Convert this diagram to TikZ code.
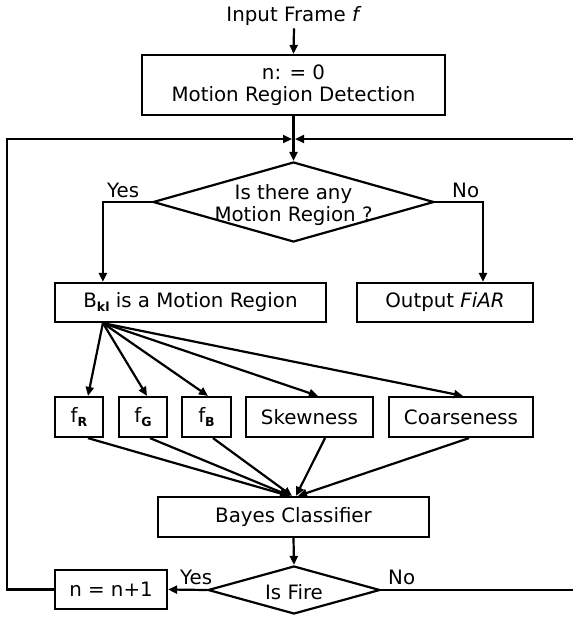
\documentclass[tikz,border=0pt]{standalone}
\usepackage{fontspec}
\setmainfont{DejaVu Sans}
\usetikzlibrary{arrows.meta,shapes.geometric,calc}
% small bold lowered index, as in B_kl and f_R
\newcommand\sbx[1]{\raisebox{-0.35ex}{\fontsize{12.5}{12.5}\selectfont\bfseries #1}}
\begin{document}
\begin{tikzpicture}[x=1pt,y=-1pt,
  font=\fontsize{19.8}{22}\selectfont,
  box/.style={draw,line width=2.2pt,rectangle,inner sep=0pt,align=center},
  dia/.style={draw,line width=2.2pt,diamond,inner sep=0pt},
  arr/.style={line width=2.2pt,-{Triangle[length=9pt,width=8pt]}},
  lbl/.style={inner sep=0pt,anchor=base west}]
\useasboundingbox (0,0) rectangle (573,619);

% input and initialisation
\node[inner sep=3pt,anchor=base] (in) at (294,21) {Input Frame \textit{f}};
\node[box,minimum width=303pt,minimum height=60pt] (init) at (293.5,85)
  {n: = 0\\Motion Region Detection};

% first decision
\node[dia,minimum width=281pt,minimum height=80pt] (q1) at (293.5,202) {};
\node[align=center,inner sep=0pt] (q1t) at (293.5,205) {Is there any\\Motion Region ?};

\node[box,minimum width=271pt,minimum height=39pt] (bkl) at (190.5,302.5)
  {B\sbx{kl} is a Motion Region};
\node[box,minimum width=176pt,minimum height=39pt] (out) at (445,302.5)
  {Output \textit{FiAR}};

% features
\node[box,minimum width=48pt,minimum height=40pt] (fR) at (79,417) {f\sbx{R}};
\node[box,minimum width=48pt,minimum height=40pt] (fG) at (143,417) {f\sbx{G}};
\node[box,minimum width=49pt,minimum height=40pt] (fB) at (206.5,417) {f\sbx{B}};
\node[box,minimum width=127pt,minimum height=40pt] (skew) at (309.5,417) {Skewness};
\node[box,minimum width=144pt,minimum height=40pt] (coarse) at (461,417) {Coarseness};

\node[box,minimum width=271pt,minimum height=40pt] (bayes) at (293.5,517) {Bayes Classifier};

% second decision and counter
\node[dia,minimum width=172pt,minimum height=48pt] (q2) at (294,590) {};
\node[inner sep=0pt] (q2t) at (294,592) {Is Fire};
\node[box,minimum width=112pt,minimum height=39pt] (nn) at (111,589.5) {n = n+1};

% routing points
\coordinate (merge) at (293.5,139);
\coordinate (ll) at (7,139);
\coordinate (rr) at (575,139);
\path (bkl.south west) ++(49,0) coordinate (fan);

% main flow
\draw[arr] (in.south) -- (init.north);
\draw[arr] (init.south) -- (q1.north);
\draw[arr] (q1.west) -| (fan |- bkl.north);
\draw[arr] (q1.east) -| ($(out.north)+(38,0)$);
\node[lbl] (y1) at (107,197) {Yes};
\node[lbl] (n1) at (452,197) {No};

% fan-out to the features
\draw[arr] (fan) -- ($(fR.north)+(9,0)$);
\draw[arr] (fan) -- ($(fG.north)+(4,0)$);
\draw[arr] (fan) -- ($(fB.north)+(1.5,0)$);
\draw[arr] (fan) -- ($(skew.north)+(8.5,0)$);
\draw[arr] (fan) -- ($(coarse.north)+(2,0)$);

% features into the classifier
\draw[arr] ($(fR.south)+(9,0)$) -- ($(bayes.north)+(-4.5,0)$);
\draw[arr] ($(fG.south)+(7,0)$) -- ($(bayes.north)+(-3.5,0)$);
\draw[arr] ($(fB.south)+(6.5,0)$) -- ($(bayes.north)+(-1.5,0)$);
\draw[arr] ($(skew.south)+(15.5,0)$) -- ($(bayes.north)+(2.5,0)$);
\draw[arr] ($(coarse.south)+(8,0)$) -- ($(bayes.north)+(4.5,0)$);

\draw[arr] (bayes.south) -- (q2.north);
\draw[arr] (q2.west) -- (nn.east);
\node[lbl] (y2) at (180,584) {Yes};
\node[lbl] (n2) at (388,584) {No};

% loops back to the first decision
\draw[arr,shorten >=1.5pt] (nn.west) -| (ll) -- (merge);
\draw[arr,shorten >=1.5pt] (q2.east) -| (rr) -- (merge);
\end{tikzpicture}
\end{document}
